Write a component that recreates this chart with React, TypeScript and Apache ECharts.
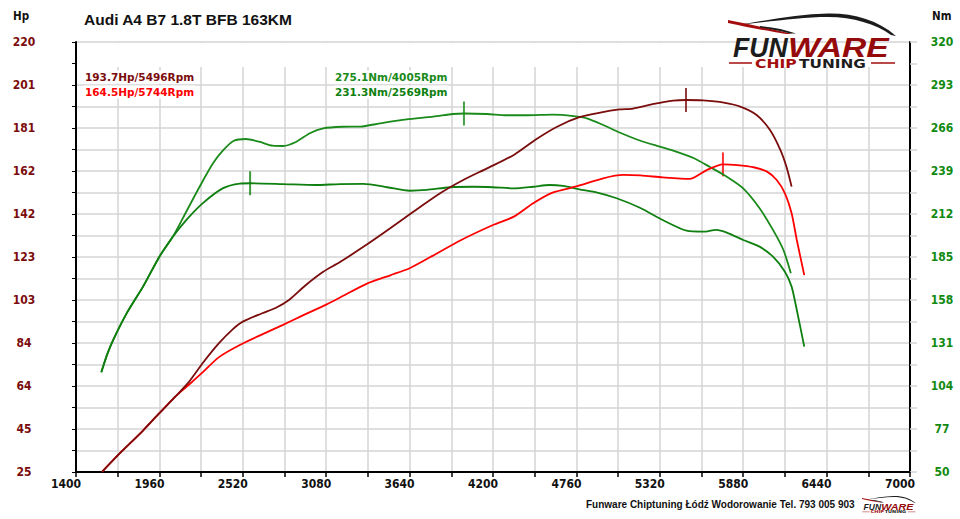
import React, { useEffect, useRef } from "react";
import * as echarts from "echarts";

// ---- data ----
const xTickLabels = [1400, 1960, 2520, 3080, 3640, 4200, 4760, 5320, 5880, 6440, 7000];
const hpTickLabels = [25, 45, 64, 84, 103, 123, 142, 162, 181, 201, 220];
const nmTickLabels = [50, 77, 104, 131, 158, 185, 212, 239, 266, 293, 320];

const tunedNmRpm = [1570, 1610, 1650, 1740, 1850, 1960, 2050, 2140, 2230, 2320, 2390, 2460, 2540, 2630, 2720, 2790, 2880, 2970, 3060, 3190, 3310, 3440, 3620, 3800, 3930, 4005, 4160, 4290, 4430, 4600, 4740, 4830, 4940, 5050, 5190, 5320, 5410, 5550, 5660, 5770, 5880, 5990, 6080, 6150, 6200];
const tunedNmValues = [112.6, 124, 133, 149.6, 166.4, 185.2, 197.7, 213.4, 229.1, 243.8, 252.2, 258, 259.1, 257.4, 254.9, 254.7, 257.4, 262.7, 265.8, 266.8, 266.9, 268.9, 271.4, 273.1, 274.8, 275.1, 274.8, 274, 274, 274.4, 273.5, 272.1, 267.9, 263.2, 258, 254.3, 251.8, 247, 241.3, 235.4, 228.1, 215.6, 202, 189.4, 174.8];

const stockNmRpm = [1570, 1610, 1650, 1740, 1850, 1960, 2050, 2140, 2250, 2385, 2500, 2569, 2790, 3010, 3170, 3330, 3490, 3640, 3755, 3910, 4070, 4200, 4340, 4470, 4580, 4670, 4780, 4900, 5030, 5190, 5340, 5500, 5610, 5700, 5770, 5880, 5990, 6080, 6160, 6205, 6240, 6290];
const stockNmValues = [112.6, 124, 133, 149.6, 166.4, 185.2, 197.7, 208.2, 218.7, 228.1, 231.1, 231.3, 230.8, 230.2, 230.8, 230.9, 228.8, 226.6, 227.1, 228.8, 229.1, 228.8, 228.1, 229.1, 230.2, 229.6, 227.5, 225.4, 221.9, 215.8, 208.2, 201.5, 200.9, 202, 200.3, 195.7, 191.5, 185.2, 175.8, 166.4, 151.7, 128.7];

const tunedHpRpm = [1575, 1690, 1850, 1960, 2070, 2160, 2250, 2360, 2450, 2520, 2650, 2740, 2830, 2940, 3060, 3170, 3350, 3510, 3665, 3845, 4000, 4160, 4340, 4490, 4630, 4780, 4920, 5050, 5140, 5280, 5410, 5496, 5610, 5750, 5860, 5970, 6060, 6130, 6170, 6205];
const tunedHpValues = [25.1, 33.2, 43.8, 51.7, 59.4, 66, 74.3, 83.4, 89.6, 93.2, 97, 99.4, 103, 109.6, 115.8, 120.1, 128, 135.5, 143, 151.4, 157.4, 162.7, 168.8, 175.9, 181.6, 185.9, 188, 189.4, 189.8, 191.9, 193.4, 193.7, 193.5, 192.5, 190.7, 186.9, 180.1, 171, 163.5, 154.4];

const stockHpRpm = [1575, 1690, 1850, 1960, 2070, 2160, 2250, 2360, 2500, 2650, 2790, 2920, 3080, 3170, 3350, 3510, 3640, 3820, 3980, 4200, 4340, 4470, 4600, 4760, 4940, 5075, 5190, 5340, 5520, 5635, 5744, 5840, 5950, 6040, 6105, 6160, 6205, 6240, 6290];
const stockHpValues = [25.1, 33.2, 43.8, 51.7, 59.4, 64.7, 70.2, 77.1, 82.6, 87.4, 91.7, 95.9, 100.9, 104, 110.3, 114.2, 117.4, 124, 130, 137, 140.8, 146.9, 151.7, 154.5, 158.2, 159.7, 159.5, 158.6, 157.9, 161.9, 164.5, 164.2, 163.2, 161.2, 157.4, 151.4, 142.3, 130.2, 114.3];

const tunedHpPeak = [5496, 193.7];
const stockHpPeak = [5744, 164.5];
const tunedNmPeak = [4005, 275.1];
const stockNmPeak = [2569, 231.3];

const titleText = "Audi A4 B7 1.8T BFB 163KM";
const footerText = "Funware Chiptuning Łódź Wodorowanie Tel. 793 005 903";

// ---- colours ----
const C_TUNED_HP = "#7b0c0c";
const C_STOCK_HP = "#ff0000";
const C_TUNED_NM = "#1a8a1a";
const C_STOCK_NM = "#0f7f0f";
const GRID = "#d4d4d4";

// ---- logo shapes ----
echarts.graphic.registerShape(
  "carBlack",
  echarts.graphic.extendPath(
    "M 10 13 C 40 8 70 2 100 1.5 C 125 1 150 8 168 24 L 163 23 C 148 12 125 5 100 5 C 72 5 40 10 10 13 Z",
    {}
  )
);
echarts.graphic.registerShape(
  "carRed",
  echarts.graphic.extendPath(
    "M 0 8 C 20 12 45 17 64 22 L 58 22 C 40 19 18 15 0 11 Z",
    {}
  )
);
echarts.graphic.registerShape(
  "carWedge",
  echarts.graphic.extendPath(
    "M 32 14 C 46 15 58 18 68 21.5 L 62 21.5 C 50 18.5 40 16.5 32 15.5 Z",
    {}
  )
);

function logo(x: number, y: number, s: number, z: number) {
  return {
    type: "group",
    x,
    y,
    scaleX: s,
    scaleY: s,
    z,
    children: [
      { type: "carBlack", z, style: { fill: "#1c1c1c" } },
      { type: "carRed", z, style: { fill: "#a30d0d" } },
      { type: "carWedge", z, style: { fill: "#1c1c1c" } },
      {
        type: "text",
        x: 5,
        y: 35,
        scaleX: 0.95,
        z,
        style: {
          text: "FUN",
          fontFamily: "Liberation Sans",
          fontWeight: "bold",
          fontStyle: "italic",
          fontSize: 28,
          fill: "#1c1c1c",
          verticalAlign: "middle",
        },
      },
      {
        type: "text",
        x: 60,
        y: 35,
        scaleX: 1.2,
        z,
        style: {
          text: "WARE",
          fontFamily: "Liberation Sans",
          fontWeight: "bold",
          fontStyle: "italic",
          fontSize: 28,
          fill: "#950a0a",
          verticalAlign: "middle",
        },
      },
      {
        type: "text",
        x: 27,
        y: 51,
        scaleX: 1.2,
        z,
        style: {
          text: "CHIP",
          fontFamily: "DejaVu Sans",
          fontWeight: "bold",
          fontSize: 13,
          fill: "#a30d0d",
          verticalAlign: "middle",
        },
      },
      {
        type: "text",
        x: 71,
        y: 51,
        scaleX: 1.18,
        z,
        style: {
          text: "TUNING",
          fontFamily: "DejaVu Sans",
          fontWeight: "bold",
          fontSize: 13,
          fill: "#1c1c1c",
          verticalAlign: "middle",
        },
      },
      { type: "line", z, shape: { x1: 1, y1: 51, x2: 24, y2: 51 }, style: { stroke: "#a30d0d", lineWidth: 1.5 } },
      { type: "line", z, shape: { x1: 143, y1: 51, x2: 167, y2: 51 }, style: { stroke: "#a30d0d", lineWidth: 1.5 } },
    ],
  };
}

const pairs = (xs: number[], ys: number[]) => xs.map((v, i) => [v, ys[i]]);

const labelFont = '"DejaVu Sans Condensed", "DejaVu Sans", sans-serif';

export default function App() {
  const ref = useRef<HTMLDivElement>(null);

  useEffect(() => {
    if (!ref.current) return;
    const chart = echarts.init(ref.current, undefined, { renderer: "svg" });
    const steps = (hpTickLabels.length - 1) * 2;

    const annot = (x: number, y: number, text: string, color: string) => ({
      type: "text",
      x,
      y,
      z: 20,
      style: {
        text,
        fontFamily: '"DejaVu Sans", sans-serif',
        fontWeight: "bold",
        fontSize: 10.5,
        fill: color,
        verticalAlign: "middle",
        backgroundColor: "#ffffff",
        padding: [1, 1, 1, 1],
      },
    });

    const curve = (name: string, axis: number, xs: number[], ys: number[], color: string) => ({
      type: "line",
      name,
      yAxisIndex: axis,
      data: pairs(xs, ys),
      showSymbol: false,
      smooth: 0.25,
      lineStyle: { color, width: 1.8 },
      itemStyle: { color },
      silent: true,
    });

    const peak = (axis: number, p: number[], color: string) => ({
      type: "scatter",
      yAxisIndex: axis,
      data: [p],
      symbol: "rect",
      symbolSize: [2, 24],
      itemStyle: { color },
      silent: true,
    });

    const option: any = {
      animation: false,
      backgroundColor: "#ffffff",
      grid: { left: 76, right: 50, top: 42, bottom: 47, containLabel: false, outerBoundsMode: "none" },
      xAxis: {
        type: "value",
        min: xTickLabels[0],
        max: xTickLabels[xTickLabels.length - 1],
        interval: (xTickLabels[1] - xTickLabels[0]) / 2,
        axisLine: { show: true, lineStyle: { color: "#000", width: 2 } },
        axisTick: { show: true, length: 5, lineStyle: { color: "#000", width: 1.5 } },
        axisLabel: {
          formatter: (v: number) => (xTickLabels.includes(v) ? String(v) : ""),
          color: "#111",
          fontWeight: "bold",
          fontSize: 12,
          fontFamily: labelFont,
          margin: 6,
          align: "center",
          padding: [0, 20, 0, 0],
        },
        splitLine: { show: true, lineStyle: { color: GRID, width: 1.5 } },
      },
      yAxis: [
        {
          type: "value",
          position: "left",
          min: 0,
          max: steps,
          interval: 1,
          axisLine: { show: true, lineStyle: { color: "#000", width: 2 } },
          axisTick: { show: true, length: 4, lineStyle: { color: "#000", width: 1 } },
          axisLabel: {
            formatter: (v: number) => (v % 2 === 0 ? String(hpTickLabels[v / 2]) : ""),
            color: C_TUNED_HP,
            fontWeight: "bold",
            fontSize: 12,
            fontFamily: labelFont,
            align: "center",
            margin: 52,
          },
          splitLine: { show: true, lineStyle: { color: GRID, width: 1.5 } },
        },
        {
          type: "value",
          position: "left",
          show: false,
          min: hpTickLabels[0],
          max: hpTickLabels[hpTickLabels.length - 1],
          splitLine: { show: false },
        },
        {
          type: "value",
          position: "right",
          min: 0,
          max: steps,
          interval: 1,
          axisLine: { show: true, lineStyle: { color: "#000", width: 2 } },
          axisTick: { show: true, length: 7, lineStyle: { color: GRID, width: 1.5 } },
          axisLabel: {
            formatter: (v: number) => (v % 2 === 0 ? String(nmTickLabels[v / 2]) : ""),
            color: "#118a11",
            fontWeight: "bold",
            fontSize: 12,
            fontFamily: labelFont,
            align: "center",
            margin: 32,
          },
          splitLine: { show: false },
        },
        {
          type: "value",
          position: "right",
          show: false,
          min: nmTickLabels[0],
          max: nmTickLabels[nmTickLabels.length - 1],
          splitLine: { show: false },
        },
      ],
      series: [
        curve("Tuned torque", 3, tunedNmRpm, tunedNmValues, C_TUNED_NM),
        curve("Stock torque", 3, stockNmRpm, stockNmValues, C_STOCK_NM),
        curve("Stock power", 1, stockHpRpm, stockHpValues, C_STOCK_HP),
        curve("Tuned power", 1, tunedHpRpm, tunedHpValues, C_TUNED_HP),
        peak(1, tunedHpPeak, C_TUNED_HP),
        peak(1, stockHpPeak, C_STOCK_HP),
        peak(3, tunedNmPeak, C_TUNED_NM),
        peak(3, stockNmPeak, C_STOCK_NM),
      ],
      graphic: [
        { type: "rect", z: 10, shape: { x: 77.2, y: 43, width: 831.6, height: 24 }, style: { fill: "#ffffff" } },
        {
          type: "text",
          x: 84,
          y: 19,
          z: 20,
          style: {
            text: titleText,
            fontFamily: '"Liberation Sans", Arial, sans-serif',
            fontWeight: "bold",
            fontSize: 15.5,
            fill: "#111",
            verticalAlign: "middle",
          },
        },
        {
          type: "text",
          x: 13,
          y: 16,
          z: 20,
          style: { text: "Hp", fontFamily: labelFont, fontWeight: "bold", fontSize: 11.5, fill: "#111", verticalAlign: "middle" },
        },
        {
          type: "text",
          x: 932,
          y: 16,
          z: 20,
          style: { text: "Nm", fontFamily: labelFont, fontWeight: "bold", fontSize: 11.5, fill: "#111", verticalAlign: "middle" },
        },
        annot(84, 77, `${tunedHpPeak[1]}Hp/${tunedHpPeak[0]}Rpm`, C_TUNED_HP),
        annot(84, 92, `${stockHpPeak[1]}Hp/${stockHpPeak[0]}Rpm`, C_STOCK_HP),
        annot(334, 77, `${tunedNmPeak[1]}Nm/${tunedNmPeak[0]}Rpm`, C_TUNED_NM),
        annot(334, 92, `${stockNmPeak[1]}Nm/${stockNmPeak[0]}Rpm`, C_STOCK_NM),
        logo(728, 12, 1, 30),
        {
          type: "text",
          x: 586,
          y: 504,
          z: 20,
          style: {
            text: footerText,
            fontFamily: '"Liberation Sans", Arial, sans-serif',
            fontWeight: "bold",
            fontSize: 10,
            fill: "#111",
            verticalAlign: "middle",
          },
        },
        logo(862, 495.5, 0.32, 30),
      ],
    };

    chart.setOption(option);
    return () => chart.dispose();
  }, []);

  return (
    <div
      ref={ref}
      style={{ position: "absolute", left: 0, top: 0, width: "960px", height: "519px" }}
    />
  );
}
